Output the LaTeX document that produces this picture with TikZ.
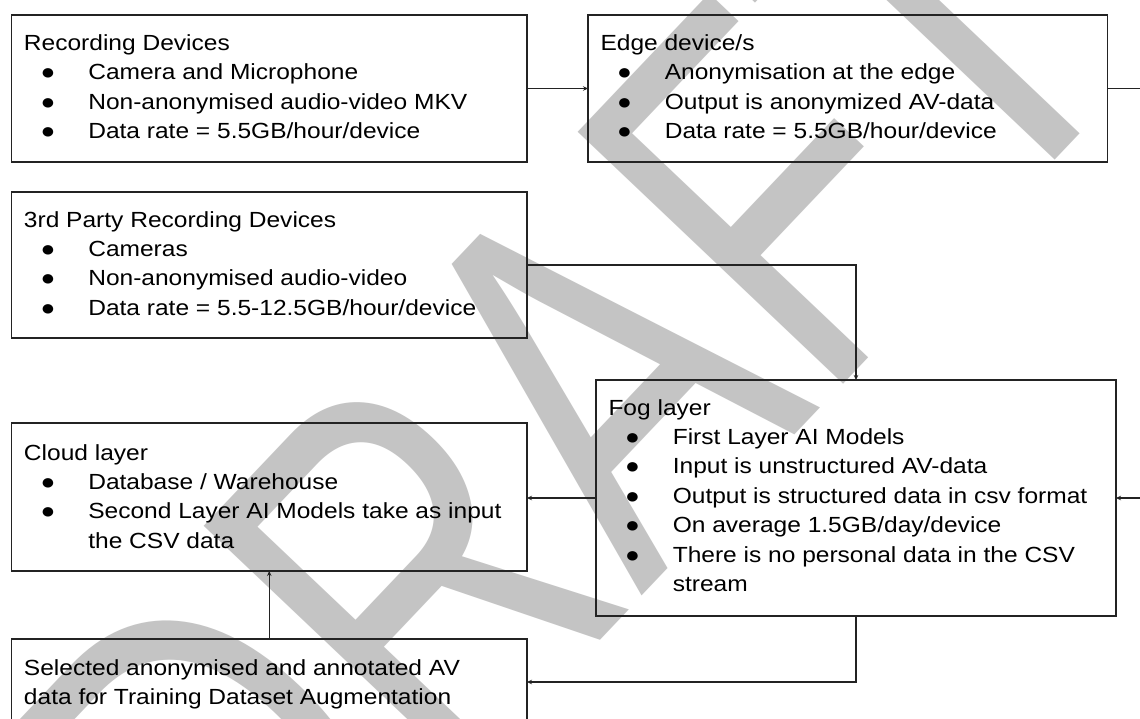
\documentclass[tikz,border=0pt]{standalone}
\usepackage{fontspec}
\setmainfont{Liberation Sans}[FakeStretch=1.12]
\newfontfamily\wmfont{Liberation Sans}[FakeStretch=0.735]
\usetikzlibrary{arrows.meta}
\definecolor{wm}{RGB}{196,196,196}
\definecolor{ln}{RGB}{35,35,35}
\newcommand{\bt}[4]{\parbox[t][#2][t]{#1}{\fontsize{21.9pt}{29.4pt}\selectfont\raggedright\rule{0pt}{#3}#4}}
\newcommand{\ttl}[1]{\hspace*{12.5pt}#1}
\newcommand{\itm}[1]{\hspace*{36.5pt}\makebox[0pt][c]{●}\hspace*{40.3pt}#1}
\newcommand{\cnt}[1]{\hspace*{76.8pt}#1}
\tikzset{
  box/.style={draw=ln, line width=1.45pt, inner sep=0pt, outer sep=0pt, anchor=north west},
  arr/.style={draw=ln, line width=1.2pt, -{Stealth[length=5pt,width=4.5pt]}},
  wmark/.style={anchor=base west, rotate=46.5, inner sep=0pt, text=wm,
    font=\wmfont\fontsize{532pt}{532pt}\selectfont}
}
\begin{document}
\begin{tikzpicture}[x=1pt,y=-1pt]
\useasboundingbox (0,0) rectangle (1140,718);
\fill[white] (0,0) rectangle (1140,718);
\clip (0,0) rectangle (1140,718);
% watermark
\node[wmark] (wmk) at (253,1006) {DRAFT};
% boxes
\node[box] (rec) at (11.5,15) {\bt{515.5pt}{147pt}{35.5pt}{\ttl{Recording Devices}\\
  \itm{Camera and Microphone}\\
  \itm{Non-anonymised audio-video MKV}\\
  \itm{Data rate = 5.5GB/hour/device}}};
\node[box] (edge) at (588,15) {\bt{519.5pt}{147pt}{35.5pt}{\ttl{Edge device/s}\\
  \itm{Anonymisation at the edge}\\
  \itm{Output is anonymized AV-data}\\
  \itm{Data rate = 5.5GB/hour/device}}};
\node[box] (third) at (11.5,192) {\bt{515.5pt}{146pt}{35pt}{\ttl{3rd Party Recording Devices}\\
  \itm{Cameras}\\
  \itm{Non-anonymised audio-video}\\
  \itm{Data rate = 5.5-12.5GB/hour/device}}};
\node[box] (fog) at (596,380) {\bt{520pt}{236pt}{35pt}{\ttl{Fog layer}\\
  \itm{First Layer AI Models}\\
  \itm{Input is unstructured AV-data}\\
  \itm{Output is structured data in csv format}\\
  \itm{On average 1.5GB/day/device}\\
  \itm{There is no personal data in the CSV}\\
  \cnt{stream}}};
\node[box] (cloud) at (11.5,423) {\bt{515.5pt}{148pt}{37pt}{\ttl{Cloud layer}\\
  \itm{Database / Warehouse}\\
  \itm{Second Layer AI Models take as input}\\
  \cnt{the CSV data}}};
\node[box] (sel) at (11.5,639) {\bt{515.5pt}{86pt}{36pt}{\ttl{Selected anonymised and annotated AV}\\
  \ttl{data for Training Dataset Augmentation}}};
% connectors
\draw[arr] (rec.east) -- (edge.west);
\draw[arr] (edge.east) -- ++(60,0) |- (fog.east);
\draw[arr] (third.east) -| (fog.north);
\draw[arr] (fog.west) -- (fog.west -| cloud.east);
\draw[arr] (fog.south) |- (sel.east);
\draw[arr] (sel.north) -- (cloud.south);
\end{tikzpicture}
\end{document}
